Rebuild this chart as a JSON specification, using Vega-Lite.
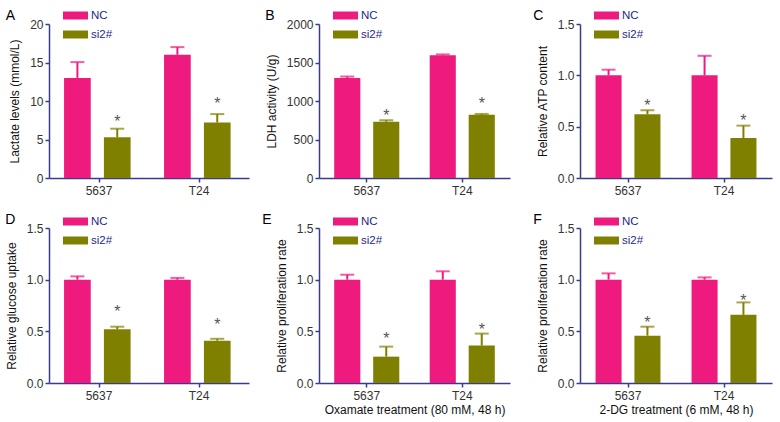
{
  "$schema": "https://vega.github.io/schema/vega-lite/v6.json",
  "padding": {"left": 5, "top": 3, "right": 3, "bottom": 3},
  "config": {
    "font": "Liberation Sans",
    "view": {"stroke": null},
    "axis": {"domainColor": "#3b3b8e", "domainWidth": 1.5, "tickColor": "#3b3b8e", "tickWidth": 1.5, "tickSize": 4, "labelColor": "#333333", "labelFontSize": 12, "labelFont": "Liberation Sans", "titleFont": "Liberation Sans", "titleFontSize": 12, "titleFontWeight": "normal", "titleColor": "#111111", "grid": false, "labelPadding": 2, "titlePadding": 8},
    "axisX": {"labelAngle": 0, "titlePadding": 3, "labelPadding": 3},
    "legend": {"title": null, "padding": 0, "symbolType": "M-1,-0.32L1,-0.32L1,0.32L-1,0.32Z", "symbolSize": 625, "symbolStrokeWidth": 0, "labelFontSize": 11.5, "labelColor": "#1f1f8a", "labelFont": "Liberation Sans", "labelOffset": 3, "rowPadding": 1},
    "title": {"fontSize": 14, "fontWeight": "normal", "anchor": "start", "frame": "bounds", "color": "#000000", "font": "Liberation Sans"}
  },
  "datasets": {
    "d": [
      {"panel": "A", "cell": "5637", "group": "NC", "mean": 13.0, "upper": 15.05},
      {"panel": "A", "cell": "5637", "group": "si2#", "mean": 5.3, "upper": 6.4, "star": "*", "sy": 7.8},
      {"panel": "A", "cell": "T24", "group": "NC", "mean": 16.0, "upper": 17.0},
      {"panel": "A", "cell": "T24", "group": "si2#", "mean": 7.2, "upper": 8.3, "star": "*", "sy": 10.1},
      {"panel": "B", "cell": "5637", "group": "NC", "mean": 1300, "upper": 1318},
      {"panel": "B", "cell": "5637", "group": "si2#", "mean": 730, "upper": 750, "star": "*", "sy": 863},
      {"panel": "B", "cell": "T24", "group": "NC", "mean": 1595, "upper": 1605},
      {"panel": "B", "cell": "T24", "group": "si2#", "mean": 820, "upper": 832, "star": "*", "sy": 1015},
      {"panel": "C", "cell": "5637", "group": "NC", "mean": 1.0, "upper": 1.055},
      {"panel": "C", "cell": "5637", "group": "si2#", "mean": 0.62, "upper": 0.66, "star": "*", "sy": 0.744},
      {"panel": "C", "cell": "T24", "group": "NC", "mean": 1.0, "upper": 1.19},
      {"panel": "C", "cell": "T24", "group": "si2#", "mean": 0.39, "upper": 0.51, "star": "*", "sy": 0.593},
      {"panel": "D", "cell": "5637", "group": "NC", "mean": 1.0, "upper": 1.032},
      {"panel": "D", "cell": "5637", "group": "si2#", "mean": 0.52, "upper": 0.545, "star": "*", "sy": 0.726},
      {"panel": "D", "cell": "T24", "group": "NC", "mean": 1.0, "upper": 1.017},
      {"panel": "D", "cell": "T24", "group": "si2#", "mean": 0.41, "upper": 0.428, "star": "*", "sy": 0.597},
      {"panel": "E", "cell": "5637", "group": "NC", "mean": 1.0, "upper": 1.048},
      {"panel": "E", "cell": "5637", "group": "si2#", "mean": 0.255, "upper": 0.352, "star": "*", "sy": 0.462},
      {"panel": "E", "cell": "T24", "group": "NC", "mean": 1.0, "upper": 1.081},
      {"panel": "E", "cell": "T24", "group": "si2#", "mean": 0.362, "upper": 0.478, "star": "*", "sy": 0.549},
      {"panel": "F", "cell": "5637", "group": "NC", "mean": 1.0, "upper": 1.061},
      {"panel": "F", "cell": "5637", "group": "si2#", "mean": 0.458, "upper": 0.545, "star": "*", "sy": 0.62},
      {"panel": "F", "cell": "T24", "group": "NC", "mean": 1.0, "upper": 1.022},
      {"panel": "F", "cell": "T24", "group": "si2#", "mean": 0.66, "upper": 0.78, "star": "*", "sy": 0.83}
    ]
  },
  "data": {"name": "d"},
  "bounds": "flush",
  "columns": 3,
  "spacing": {"row": 50, "column": 70},
  "resolve": {"scale": {"x": "independent", "y": "independent", "color": "independent", "fill": "independent", "stroke": "independent", "xOffset": "independent"}, "legend": {"color": "independent"}},
  "concat": [
    {
      "width": 200, "height": 154,
      "title": {"text": "A", "dx": -3, "offset": -20},
      "transform": [{"filter": "datum.panel == 'A'"}],
      "encoding": {
        "x": {"field": "cell", "type": "nominal", "sort": ["5637", "T24"], "scale": {"paddingInner": 0, "paddingOuter": 0}, "axis": {"title": null}},
        "xOffset": {"field": "group", "type": "nominal", "sort": ["NC", "si2#"], "scale": {"paddingInner": 0.33, "paddingOuter": 0.42, "align": 0.45}}
      },
      "layer": [
        {"mark": {"type": "bar"}, "encoding": {"y": {"field": "mean", "type": "quantitative", "title": "Lactate levels (mmol/L)", "scale": {"domain": [0, 20], "nice": false}, "axis": {"values": [0, 5, 10, 15, 20], "format": "d"}}, "color": {"field": "group", "type": "nominal", "sort": ["NC", "si2#"], "scale": {"domain": ["NC", "si2#"], "range": ["#ee1a7e", "#808000"]}, "legend": {"orient": "none", "legendX": 14, "legendY": -21, "direction": "vertical"}}}},
        {"mark": {"type": "rule", "strokeWidth": 2}, "encoding": {"y": {"field": "mean", "type": "quantitative", "title": "Lactate levels (mmol/L)", "axis": {"values": [0, 5, 10, 15, 20], "format": "d"}}, "y2": {"field": "upper"}, "stroke": {"field": "group", "type": "nominal", "scale": {"domain": ["NC", "si2#"], "range": ["#ee1a7e", "#808000"]}, "legend": null}}},
        {"mark": {"type": "tick", "thickness": 2, "size": 14}, "encoding": {"y": {"field": "upper", "type": "quantitative", "title": "Lactate levels (mmol/L)", "axis": {"values": [0, 5, 10, 15, 20], "format": "d"}}, "fill": {"field": "group", "type": "nominal", "scale": {"domain": ["NC", "si2#"], "range": ["#ee1a7e", "#808000"]}, "legend": null}}},
        {"transform": [{"filter": "datum.star"}], "mark": {"type": "text", "fontSize": 16, "baseline": "alphabetic", "dy": 9, "color": "#555555"}, "encoding": {"y": {"field": "sy", "type": "quantitative", "title": "Lactate levels (mmol/L)", "axis": {"values": [0, 5, 10, 15, 20], "format": "d"}}, "text": {"field": "star"}}}
      ]
    },
    {
      "width": 191, "height": 154,
      "title": {"text": "B", "dx": 0, "offset": -20},
      "transform": [{"filter": "datum.panel == 'B'"}],
      "encoding": {
        "x": {"field": "cell", "type": "nominal", "sort": ["5637", "T24"], "scale": {"paddingInner": 0, "paddingOuter": 0}, "axis": {"title": null}},
        "xOffset": {"field": "group", "type": "nominal", "sort": ["NC", "si2#"], "scale": {"paddingInner": 0.33, "paddingOuter": 0.39}}
      },
      "layer": [
        {"mark": {"type": "bar"}, "encoding": {"y": {"field": "mean", "type": "quantitative", "title": "LDH activity (U/g)", "scale": {"domain": [0, 2000], "nice": false}, "axis": {"values": [0, 500, 1000, 1500, 2000], "format": "d"}}, "color": {"field": "group", "type": "nominal", "sort": ["NC", "si2#"], "scale": {"domain": ["NC", "si2#"], "range": ["#ee1a7e", "#808000"]}, "legend": {"orient": "none", "legendX": 14, "legendY": -21, "direction": "vertical"}}}},
        {"mark": {"type": "rule", "strokeWidth": 2}, "encoding": {"y": {"field": "mean", "type": "quantitative", "title": "LDH activity (U/g)", "axis": {"values": [0, 500, 1000, 1500, 2000], "format": "d"}}, "y2": {"field": "upper"}, "stroke": {"field": "group", "type": "nominal", "scale": {"domain": ["NC", "si2#"], "range": ["#ee1a7e", "#808000"]}, "legend": null}}},
        {"mark": {"type": "tick", "thickness": 2, "size": 14}, "encoding": {"y": {"field": "upper", "type": "quantitative", "title": "LDH activity (U/g)", "axis": {"values": [0, 500, 1000, 1500, 2000], "format": "d"}}, "fill": {"field": "group", "type": "nominal", "scale": {"domain": ["NC", "si2#"], "range": ["#ee1a7e", "#808000"]}, "legend": null}}},
        {"transform": [{"filter": "datum.star"}], "mark": {"type": "text", "fontSize": 16, "baseline": "alphabetic", "dy": 9, "color": "#555555"}, "encoding": {"y": {"field": "sy", "type": "quantitative", "title": "LDH activity (U/g)", "axis": {"values": [0, 500, 1000, 1500, 2000], "format": "d"}}, "text": {"field": "star"}}}
      ]
    },
    {
      "width": 192, "height": 154,
      "title": {"text": "C", "dx": -3, "offset": -20},
      "transform": [{"filter": "datum.panel == 'C'"}],
      "encoding": {
        "x": {"field": "cell", "type": "nominal", "sort": ["5637", "T24"], "scale": {"paddingInner": 0, "paddingOuter": 0}, "axis": {"title": null}},
        "xOffset": {"field": "group", "type": "nominal", "sort": ["NC", "si2#"], "scale": {"paddingInner": 0.33, "paddingOuter": 0.4}}
      },
      "layer": [
        {"mark": {"type": "bar"}, "encoding": {"y": {"field": "mean", "type": "quantitative", "title": "Relative ATP content", "scale": {"domain": [0, 1.5], "nice": false}, "axis": {"values": [0, 0.5, 1, 1.5], "format": ".1f"}}, "color": {"field": "group", "type": "nominal", "sort": ["NC", "si2#"], "scale": {"domain": ["NC", "si2#"], "range": ["#ee1a7e", "#808000"]}, "legend": {"orient": "none", "legendX": 14, "legendY": -21, "direction": "vertical"}}}},
        {"mark": {"type": "rule", "strokeWidth": 2}, "encoding": {"y": {"field": "mean", "type": "quantitative", "title": "Relative ATP content", "axis": {"values": [0, 0.5, 1, 1.5], "format": ".1f"}}, "y2": {"field": "upper"}, "stroke": {"field": "group", "type": "nominal", "scale": {"domain": ["NC", "si2#"], "range": ["#ee1a7e", "#808000"]}, "legend": null}}},
        {"mark": {"type": "tick", "thickness": 2, "size": 14}, "encoding": {"y": {"field": "upper", "type": "quantitative", "title": "Relative ATP content", "axis": {"values": [0, 0.5, 1, 1.5], "format": ".1f"}}, "fill": {"field": "group", "type": "nominal", "scale": {"domain": ["NC", "si2#"], "range": ["#ee1a7e", "#808000"]}, "legend": null}}},
        {"transform": [{"filter": "datum.star"}], "mark": {"type": "text", "fontSize": 16, "baseline": "alphabetic", "dy": 9, "color": "#555555"}, "encoding": {"y": {"field": "sy", "type": "quantitative", "title": "Relative ATP content", "axis": {"values": [0, 0.5, 1, 1.5], "format": ".1f"}}, "text": {"field": "star"}}}
      ]
    },
    {
      "width": 200, "height": 155,
      "title": {"text": "D", "dx": 0, "offset": -18},
      "transform": [{"filter": "datum.panel == 'D'"}],
      "encoding": {
        "x": {"field": "cell", "type": "nominal", "sort": ["5637", "T24"], "scale": {"paddingInner": 0, "paddingOuter": 0}, "axis": {"title": null}},
        "xOffset": {"field": "group", "type": "nominal", "sort": ["NC", "si2#"], "scale": {"paddingInner": 0.33, "paddingOuter": 0.42, "align": 0.45}}
      },
      "layer": [
        {"mark": {"type": "bar"}, "encoding": {"y": {"field": "mean", "type": "quantitative", "title": "Relative glucose uptake", "scale": {"domain": [0, 1.5], "nice": false}, "axis": {"values": [0, 0.5, 1, 1.5], "format": ".1f"}}, "color": {"field": "group", "type": "nominal", "sort": ["NC", "si2#"], "scale": {"domain": ["NC", "si2#"], "range": ["#ee1a7e", "#808000"]}, "legend": {"orient": "none", "legendX": 14, "legendY": -19, "direction": "vertical"}}}},
        {"mark": {"type": "rule", "strokeWidth": 2}, "encoding": {"y": {"field": "mean", "type": "quantitative", "title": "Relative glucose uptake", "axis": {"values": [0, 0.5, 1, 1.5], "format": ".1f"}}, "y2": {"field": "upper"}, "stroke": {"field": "group", "type": "nominal", "scale": {"domain": ["NC", "si2#"], "range": ["#ee1a7e", "#808000"]}, "legend": null}}},
        {"mark": {"type": "tick", "thickness": 2, "size": 14}, "encoding": {"y": {"field": "upper", "type": "quantitative", "title": "Relative glucose uptake", "axis": {"values": [0, 0.5, 1, 1.5], "format": ".1f"}}, "fill": {"field": "group", "type": "nominal", "scale": {"domain": ["NC", "si2#"], "range": ["#ee1a7e", "#808000"]}, "legend": null}}},
        {"transform": [{"filter": "datum.star"}], "mark": {"type": "text", "fontSize": 16, "baseline": "alphabetic", "dy": 9, "color": "#555555"}, "encoding": {"y": {"field": "sy", "type": "quantitative", "title": "Relative glucose uptake", "axis": {"values": [0, 0.5, 1, 1.5], "format": ".1f"}}, "text": {"field": "star"}}}
      ]
    },
    {
      "width": 191, "height": 155,
      "title": {"text": "E", "dx": -13, "offset": -18},
      "transform": [{"filter": "datum.panel == 'E'"}],
      "encoding": {
        "x": {"field": "cell", "type": "nominal", "sort": ["5637", "T24"], "scale": {"paddingInner": 0, "paddingOuter": 0}, "axis": {"title": "Oxamate treatment (80 mM, 48 h)"}},
        "xOffset": {"field": "group", "type": "nominal", "sort": ["NC", "si2#"], "scale": {"paddingInner": 0.33, "paddingOuter": 0.39}}
      },
      "layer": [
        {"mark": {"type": "bar"}, "encoding": {"y": {"field": "mean", "type": "quantitative", "title": "Relative proliferation rate", "scale": {"domain": [0, 1.5], "nice": false}, "axis": {"values": [0, 0.5, 1, 1.5], "format": ".1f"}}, "color": {"field": "group", "type": "nominal", "sort": ["NC", "si2#"], "scale": {"domain": ["NC", "si2#"], "range": ["#ee1a7e", "#808000"]}, "legend": {"orient": "none", "legendX": 14, "legendY": -19, "direction": "vertical"}}}},
        {"mark": {"type": "rule", "strokeWidth": 2}, "encoding": {"y": {"field": "mean", "type": "quantitative", "title": "Relative proliferation rate", "axis": {"values": [0, 0.5, 1, 1.5], "format": ".1f"}}, "y2": {"field": "upper"}, "stroke": {"field": "group", "type": "nominal", "scale": {"domain": ["NC", "si2#"], "range": ["#ee1a7e", "#808000"]}, "legend": null}}},
        {"mark": {"type": "tick", "thickness": 2, "size": 14}, "encoding": {"y": {"field": "upper", "type": "quantitative", "title": "Relative proliferation rate", "axis": {"values": [0, 0.5, 1, 1.5], "format": ".1f"}}, "fill": {"field": "group", "type": "nominal", "scale": {"domain": ["NC", "si2#"], "range": ["#ee1a7e", "#808000"]}, "legend": null}}},
        {"transform": [{"filter": "datum.star"}], "mark": {"type": "text", "fontSize": 16, "baseline": "alphabetic", "dy": 9, "color": "#555555"}, "encoding": {"y": {"field": "sy", "type": "quantitative", "title": "Relative proliferation rate", "axis": {"values": [0, 0.5, 1, 1.5], "format": ".1f"}}, "text": {"field": "star"}}}
      ]
    },
    {
      "width": 192, "height": 155,
      "title": {"text": "F", "dx": -3, "offset": -18},
      "transform": [{"filter": "datum.panel == 'F'"}],
      "encoding": {
        "x": {"field": "cell", "type": "nominal", "sort": ["5637", "T24"], "scale": {"paddingInner": 0, "paddingOuter": 0}, "axis": {"title": "2-DG treatment (6 mM, 48 h)"}},
        "xOffset": {"field": "group", "type": "nominal", "sort": ["NC", "si2#"], "scale": {"paddingInner": 0.33, "paddingOuter": 0.4}}
      },
      "layer": [
        {"mark": {"type": "bar"}, "encoding": {"y": {"field": "mean", "type": "quantitative", "title": "Relative proliferation rate", "scale": {"domain": [0, 1.5], "nice": false}, "axis": {"values": [0, 0.5, 1, 1.5], "format": ".1f"}}, "color": {"field": "group", "type": "nominal", "sort": ["NC", "si2#"], "scale": {"domain": ["NC", "si2#"], "range": ["#ee1a7e", "#808000"]}, "legend": {"orient": "none", "legendX": 14, "legendY": -19, "direction": "vertical"}}}},
        {"mark": {"type": "rule", "strokeWidth": 2}, "encoding": {"y": {"field": "mean", "type": "quantitative", "title": "Relative proliferation rate", "axis": {"values": [0, 0.5, 1, 1.5], "format": ".1f"}}, "y2": {"field": "upper"}, "stroke": {"field": "group", "type": "nominal", "scale": {"domain": ["NC", "si2#"], "range": ["#ee1a7e", "#808000"]}, "legend": null}}},
        {"mark": {"type": "tick", "thickness": 2, "size": 14}, "encoding": {"y": {"field": "upper", "type": "quantitative", "title": "Relative proliferation rate", "axis": {"values": [0, 0.5, 1, 1.5], "format": ".1f"}}, "fill": {"field": "group", "type": "nominal", "scale": {"domain": ["NC", "si2#"], "range": ["#ee1a7e", "#808000"]}, "legend": null}}},
        {"transform": [{"filter": "datum.star"}], "mark": {"type": "text", "fontSize": 16, "baseline": "alphabetic", "dy": 9, "color": "#555555"}, "encoding": {"y": {"field": "sy", "type": "quantitative", "title": "Relative proliferation rate", "axis": {"values": [0, 0.5, 1, 1.5], "format": ".1f"}}, "text": {"field": "star"}}}
      ]
    }
  ]
}
